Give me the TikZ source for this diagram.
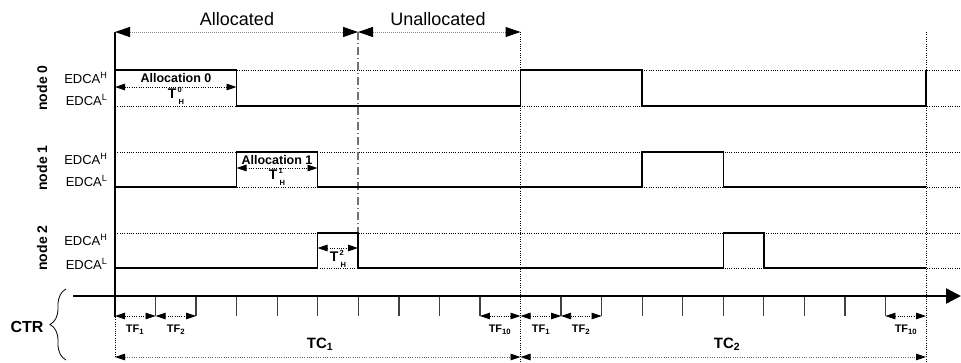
\documentclass[tikz,border=0pt]{standalone}
\usepackage{fontspec}
\setmainfont{Liberation Sans}
\usetikzlibrary{arrows.meta,decorations.pathreplacing}
\newcommand\thigh[1]{T\kern1.2pt\rlap{\raisebox{0.9ex}{\fontsize{7.5}{8}\selectfont #1}}\kern1pt\raisebox{-0.8ex}{\fontsize{7.5}{8}\selectfont H}}

\tikzset{
  bigtri/.tip={Triangle[length=15pt,width=10pt,color=black]},
  tri/.tip={Triangle[length=10pt,width=6.5pt,color=black]},
  sig/.style={line width=1.6pt},
  lvl/.style={line width=0.7pt,dash pattern=on 1pt off 1.3pt},
  span/.style={line width=1pt,black!45,dash pattern=on 1pt off 1pt,bigtri-bigtri},
  dim/.style={line width=0.8pt,dash pattern=on 1pt off 1.3pt,tri-tri},
  edca/.style={anchor=east,font=\fontsize{13}{14}\selectfont},
  nodelbl/.style={rotate=90,font=\bfseries\fontsize{14}{15}\selectfont},
  alloc/.style={inner sep=0pt,font=\bfseries\fontsize{12.5}{14}\selectfont},
  thlbl/.style={inner sep=0pt,font=\bfseries\fontsize{14}{15}\selectfont},
  tf/.style={font=\bfseries\fontsize{11}{12}\selectfont},
  tc/.style={font=\bfseries\fontsize{15}{16}\selectfont}
}

\begin{document}
\begin{tikzpicture}[x=1pt,y=-1pt]
			\useasboundingbox (0,0) rectangle (961,362);
			
			%%%%% level lines %%%%%
			\foreach \y in {70,106,152,187,233,268}
				\draw[lvl] (115,\y) -- (961,\y);
			
			%%%%% markers %%%%%
			\draw[line width=1.2pt,black!55,dash pattern=on 8pt off 3pt on 1pt off 3pt] (358,32) -- (358,233);
			\draw[lvl] (520.5,32) -- (520.5,362);
			\draw[lvl] (926,32) -- (926,362);
			
			%%%%% top spans %%%%%
			\node (allocated) at (237,19) {\fontsize{18}{20}\selectfont Allocated};
			\node (unallocated) at (438,19) {\fontsize{18}{20}\selectfont Unallocated};
			\draw[span] (115,32) -- (358,32);
			\draw[span] (358,32) -- (520.5,32);
			
			%%%%% node 0 %%%%%
			\node[nodelbl] (n0) at (42,88) {node 0};
			\node[edca] (n0h) at (111,78) {EDCA\textsuperscript{H}};
			\node[edca] (n0l) at (111,100) {EDCA\textsuperscript{L}};
			\draw[sig] (115,70) -- (236.5,70) -- (236.5,106) -- (520.5,106) -- (520.5,70) -- (642,70) -- (642,106) -- (926,106) -- (926,70);
			\node[alloc] (a0) at (176,78) {Allocation 0};
			\draw[dim] (115,87) -- (236.5,87);
			\node[thlbl] (t0) at (176,96) {\thigh{0}};
			
			%%%%% node 1 %%%%%
			\node[nodelbl] (n1) at (42,168) {node 1};
			\node[edca] (n1h) at (111,159) {EDCA\textsuperscript{H}};
			\node[edca] (n1l) at (111,181) {EDCA\textsuperscript{L}};
			\draw[sig] (115,187) -- (236.5,187) -- (236.5,152) -- (317.5,152) -- (317.5,187) -- (642,187) -- (642,152) -- (723.5,152) -- (723.5,187) -- (926,187);
			\node[alloc] (a1) at (277,160) {Allocation 1};
			\draw[dim] (236.5,168) -- (317.5,168);
			\node[thlbl] (t1) at (277,177) {\thigh{1}};
			
			%%%%% node 2 %%%%%
			\node[nodelbl] (n2) at (42,248) {node 2};
			\node[edca] (n2h) at (111,240) {EDCA\textsuperscript{H}};
			\node[edca] (n2l) at (111,264) {EDCA\textsuperscript{L}};
			\draw[sig] (115,268) -- (317.5,268) -- (317.5,233) -- (358,233) -- (358,268) -- (723.5,268) -- (723.5,233) -- (764,233) -- (764,268) -- (926,268);
			\draw[dim] (317.5,248) -- (358,248);
			\node[thlbl] (t2) at (338,259) {\thigh{2}};
			
			%%%%% time axis %%%%%
			\foreach \k in {1,...,9,11,12,...,19}
				\draw[line width=1.3pt,black!75] (115+40.55*\k,296) -- (115+40.55*\k,316);
			\draw[line width=2.4pt,-{Triangle[length=15pt,width=15pt]}] (73,296) -- (961,296);
			\draw[line width=2pt] (115,32) -- (115,317);
			\draw[lvl] (115,317) -- (115,357);
			
			%%%%% frames %%%%%
			\draw[dim] (115,316) -- (155.55,316);
			\draw[dim] (155.55,316) -- (196.1,316);
			\draw[dim] (479.95,316) -- (520.5,316);
			\draw[dim] (520.5,316) -- (561.05,316);
			\draw[dim] (561.05,316) -- (601.6,316);
			\draw[dim] (885.45,316) -- (926,316);
			\node[tf] (tf1a) at (135,330) {TF\textsubscript{1}};
			\node[tf] (tf2a) at (176,330) {TF\textsubscript{2}};
			\node[tf] (tf10a) at (500,330) {TF\textsubscript{10}};
			\node[tf] (tf1b) at (541,330) {TF\textsubscript{1}};
			\node[tf] (tf2b) at (581,330) {TF\textsubscript{2}};
			\node[tf] (tf10b) at (906,330) {TF\textsubscript{10}};
			
			%%%%% cycles %%%%%
			\draw[dim,black!60] (115,357) -- (520.5,357);
			\draw[dim,black!60] (520.5,357) -- (926,357);
			\node[tc] (tc1) at (320,344) {TC\textsubscript{1}};
			\node[tc] (tc2) at (727,344) {TC\textsubscript{2}};
			
			%%%%% CTR %%%%%
			\node[font=\bfseries\fontsize{16}{17}\selectfont] (ctr) at (27,327) {CTR};
			\draw[line width=0.8pt,decorate,decoration={brace,amplitude=16pt}] (66,360) -- (66,289);
			
			%%%%% END %%%%%
		\end{tikzpicture}
\end{document}
